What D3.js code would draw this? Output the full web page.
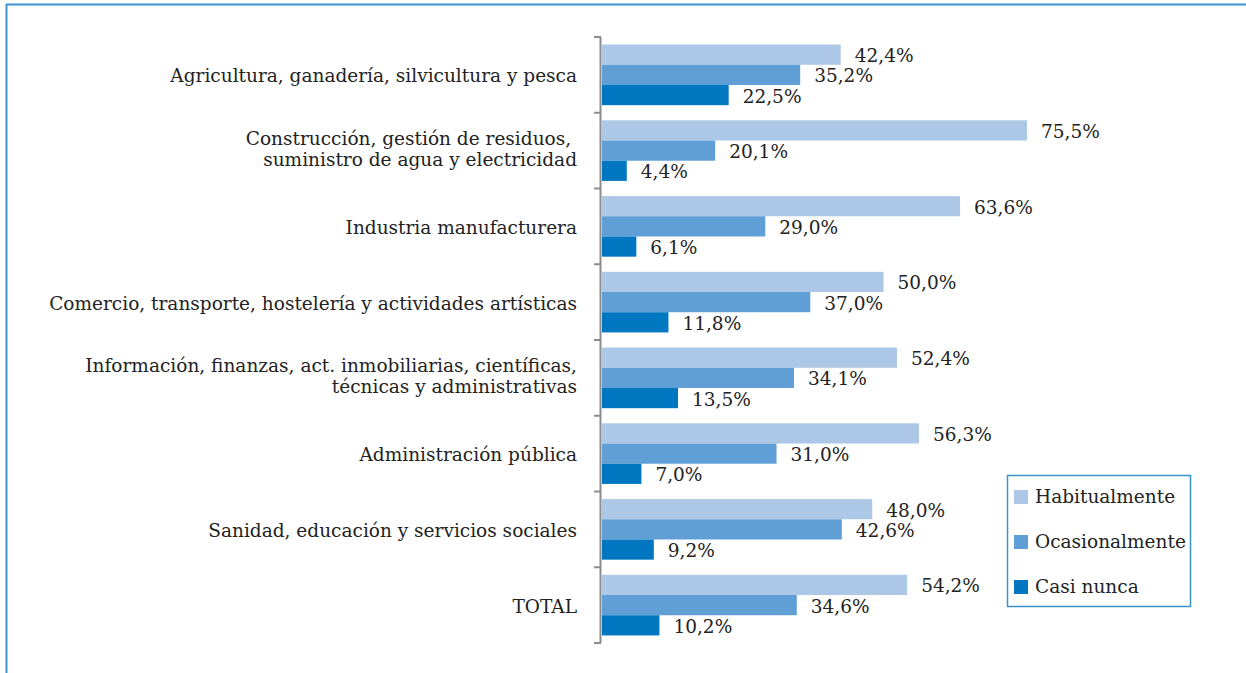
<!DOCTYPE html>
<html><head><meta charset="utf-8">
<script src="https://cdn.jsdelivr.net/npm/d3@7"></script>
<style>
html,body{margin:0;padding:0;background:#fff;}
text{font-family:"DejaVu Serif",serif;fill:#222;}
</style></head>
<body><svg id="c" width="1246" height="673"></svg>
<script>
const categories = [
  ["Agricultura, ganadería, silvicultura y pesca"],
  ["Construcción, gestión de residuos,\u00a0", "suministro de agua y electricidad"],
  ["Industria manufacturera"],
  ["Comercio, transporte, hostelería y actividades artísticas"],
  ["Información, finanzas, act. inmobiliarias, científicas,", "técnicas y administrativas"],
  ["Administración pública"],
  ["Sanidad, educación y servicios sociales"],
  ["TOTAL"]
];
const seriesNames = ["Habitualmente", "Ocasionalmente", "Casi nunca"];
const habitualmente = [42.4, 75.5, 63.6, 50.0, 52.4, 56.3, 48.0, 54.2];
const ocasionalmente = [35.2, 20.1, 29.0, 37.0, 34.1, 31.0, 42.6, 34.6];
const casiNunca = [22.5, 4.4, 6.1, 11.8, 13.5, 7.0, 9.2, 10.2];
const colors = ["#adc8e6", "#5f9fd5", "#0077c0"];

const series = [habitualmente, ocasionalmente, casiNunca];
const svg = d3.select("#c");

// fit font size so the first category label spans ~407px like the reference
const probe = svg.append("text").attr("font-size",20).text(categories[0][0]);
const w20 = probe.node().getComputedTextLength();
probe.remove();
const fs = Math.min(19, 20*407/w20);

// frame
svg.append("line").attr("x1",6).attr("x2",1246).attr("y1",4.5).attr("y2",4.5).attr("stroke","#3a93d0").attr("stroke-width",2);
svg.append("line").attr("x1",6.5).attr("x2",6.5).attr("y1",4).attr("y2",673).attr("stroke","#3a93d0").attr("stroke-width",2);

const x = d3.scaleLinear().domain([0,100]).range([602,1165]);
const y = d3.scaleBand().domain(d3.range(categories.length)).range([37,643]).paddingInner(0.2).paddingOuter(0.1);
const ys = d3.scaleBand().domain(d3.range(3)).range([0,y.bandwidth()]);
const fmt = v => d3.format(".1f")(v).replace(".", ",") + "%";

const g = svg.append("g");
categories.forEach((cat,i)=>{
  series.forEach((s,j)=>{
    g.append("rect").attr("x",x(0)).attr("y",y(i)+ys(j)).attr("width",x(s[i])-x(0)).attr("height",ys.bandwidth()).attr("fill",colors[j]);
    g.append("text").attr("x",x(s[i])+14).attr("y",y(i)+ys(j)+ys.bandwidth()/2+1).attr("dy","0.35em").attr("font-size",fs).text(fmt(s[i]));
  });
  const cy = y(i)+y.bandwidth()/2+1 - (cat.length>1?3:0);
  const t = g.append("text").attr("x",577).attr("text-anchor","end").attr("font-size",fs).attr("xml:space","preserve");
  cat.forEach((line,k)=>{
    t.append("tspan").attr("x",577).attr("y",cy + (k-(cat.length-1)/2)*21).attr("dy","0.35em").text(line);
  });
});

// axis
const step = (643-37)/categories.length;
svg.append("line").attr("x1",600.5).attr("x2",600.5).attr("y1",37).attr("y2",643).attr("stroke","#8c8c8c").attr("stroke-width",2);
d3.range(categories.length+1).forEach(k=>{
  svg.append("line").attr("x1",594).attr("x2",601).attr("y1",37+k*step).attr("y2",37+k*step).attr("stroke","#8c8c8c").attr("stroke-width",2);
});

// legend
const lg = svg.append("g");
lg.append("rect").attr("x",1007.5).attr("y",475.5).attr("width",183).attr("height",131).attr("fill","#fff").attr("stroke","#3a93d0").attr("stroke-width",1.5);
seriesNames.forEach((n,j)=>{
  const cy = 497 + j*45;
  lg.append("rect").attr("x",1014).attr("y",cy-7).attr("width",14).attr("height",14).attr("fill",colors[j]);
  lg.append("text").attr("x",1035).attr("y",cy).attr("dy","0.35em").attr("font-size",fs).text(n);
});
</script></body></html>
